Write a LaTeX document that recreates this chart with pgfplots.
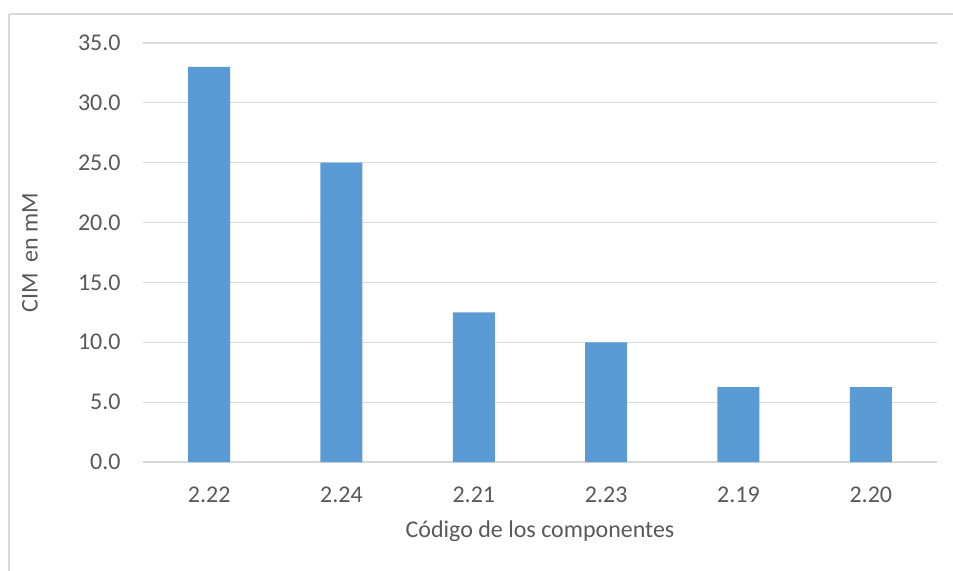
\documentclass[border=0pt]{standalone}
\usepackage{pgfplots}
\pgfplotsset{compat=1.18}
\usepackage{fontspec}
\setmainfont{Carlito}
\definecolor{barblue}{HTML}{5B9BD5}
\definecolor{gridgray}{HTML}{D9D9D9}
\definecolor{txtgray}{HTML}{595959}
\begin{document}
\begin{tikzpicture}[x=1pt,y=1pt]
\begin{axis}[
  at={(0,0)}, anchor=south west,
  scale only axis, width=397pt, height=209.5pt,
  xmin=-0.5, xmax=5.5, ymin=0, ymax=35,
  ytick={0,5,...,35},
  xtick={0,1,2,3,4,5},
  xticklabels={2.22,2.24,2.21,2.23,2.19,2.20},
  axis line style={draw=none},
  major tick length=0pt,
  ymajorgrids, major grid style={gridgray, line width=0.6pt},
  font=\fontsize{12}{14}\selectfont,
  tick label style={txtgray},
  /pgf/number format/fixed, /pgf/number format/fixed zerofill,
  /pgf/number format/precision=1, /pgf/number format/assume math mode=true,
  y tick label style={anchor=east, inner sep=0pt, xshift=-11pt},
  x tick label style={anchor=north, inner sep=0pt, yshift=-12.5pt},
  xlabel={Código de los componentes},
  ylabel={CIM\ \ en mM},
  label style={txtgray},
  xlabel style={at={(axis description cs:0.5,-0.1647)}, anchor=center},
  ylabel style={at={(axis description cs:-0.1423,0.5)}, anchor=center},
  clip=false,
]
\addplot[ybar, bar width=21pt, fill=barblue, draw=none, bar shift=0pt]
  coordinates {(0,33.0) (1,25.0) (2,12.5) (3,10.0) (4,6.25) (5,6.25)};
\end{axis}
\draw[gridgray, line width=0.6pt] (-67,224) -- (420,224);
\draw[gridgray, line width=0.6pt] (-67,224) -- (-67,-60);
\pgfresetboundingbox
\useasboundingbox (-71.5,-54) rectangle (405,231);
\end{tikzpicture}
\end{document}
